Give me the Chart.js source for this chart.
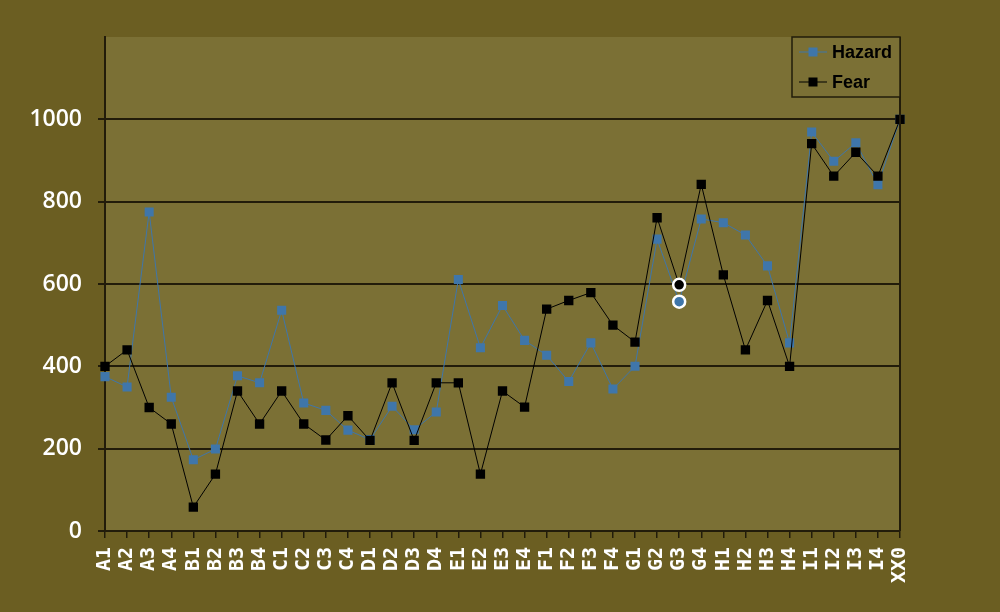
<!DOCTYPE html>
<html>
<head>
<meta charset="utf-8">
<script src="https://cdn.jsdelivr.net/npm/chart.js@4"></script>
<style>
  html, body { margin: 0; padding: 0; background: #6b5e22; }
  #wrap { width: 1000px; height: 612px; }
</style>
</head>
<body>
<div id="wrap"><canvas id="chart" width="1000" height="612"></canvas></div>
<script>
// data
const categories = ["A1", "A2", "A3", "A4", "B1", "B2", "B3", "B4", "C1", "C2", "C3", "C4",
  "D1", "D2", "D3", "D4", "E1", "E2", "E3", "E4", "F1", "F2", "F3", "F4",
  "G1", "G2", "G3", "G4", "H1", "H2", "H3", "H4", "I1", "I2", "I3", "I4", "XX0"];
const hazard = [375, 350, 775, 325, 173, 199, 377, 360, 536, 311, 293, 245,
  222, 303, 246, 289, 611, 445, 548, 463, 427, 363, 457, 345,
  400, 709, 557, 758, 749, 719, 644, 457, 969, 898, 943, 841, 1000];
const fear = [400, 440, 300, 260, 58, 138, 340, 260, 340, 260, 221, 280,
  220, 360, 220, 360, 360, 138, 340, 301, 539, 560, 579, 500,
  459, 761, 598, 842, 622, 440, 560, 400, 941, 862, 920, 862, 1000];
const yTicks = [0, 200, 400, 600, 800, 1000];
const yMax = 1200;
const highlight = "G3"; // the circled point

const OUTER = "#6b5e22";
const PLOT = "#7b7035";
const GRID = "#221c0a";
const BLUE = "#3f76aa";
const BLACK = "#000000";

const hi = categories.indexOf(highlight);
function perPoint(normal, special) {
  return categories.map((c, i) => (i === hi ? special : normal));
}

// background, right border, legend box
const decor = {
  id: "decor",
  beforeDraw(chart) {
    const { ctx, chartArea: a } = chart;
    ctx.save();
    ctx.fillStyle = OUTER;
    ctx.fillRect(0, 0, chart.width, chart.height);
    ctx.fillStyle = PLOT;
    ctx.fillRect(a.left, a.top, a.right - a.left, a.bottom - a.top);
    ctx.restore();
  },
  afterDraw(chart) {
    const { ctx, chartArea: a } = chart;
    ctx.save();
    ctx.strokeStyle = GRID;
    ctx.lineWidth = 2;
    ctx.beginPath();
    ctx.moveTo(a.right, a.top);
    ctx.lineTo(a.right, a.bottom);
    ctx.stroke();

    // legend
    const bx = a.right - 108, by = a.top, bw = 108, bh = 60;
    ctx.fillStyle = PLOT;
    ctx.fillRect(bx, by, bw, bh);
    ctx.lineWidth = 1.5;
    ctx.strokeRect(bx, by, bw, bh);
    const items = [
      { label: "Hazard", color: BLUE, size: 9 },
      { label: "Fear", color: BLACK, size: 9 }
    ];
    items.forEach((it, i) => {
      const y = by + 15 + i * 30;
      ctx.strokeStyle = it.color;
      ctx.lineWidth = 1;
      ctx.beginPath();
      ctx.moveTo(bx + 7, y);
      ctx.lineTo(bx + 35, y);
      ctx.stroke();
      ctx.fillStyle = it.color;
      ctx.fillRect(bx + 21 - it.size / 2, y - it.size / 2, it.size, it.size);
      ctx.fillStyle = "#000";
      ctx.font = "bold 18px 'Liberation Sans'";
      ctx.textBaseline = "middle";
      ctx.fillText(it.label, bx + 40, y + 1);
    });
    ctx.restore();
  }
};

new Chart(document.getElementById("chart"), {
  type: "line",
  data: {
    labels: categories,
    datasets: [
      {
        label: "Hazard",
        data: hazard,
        borderColor: BLUE,
        borderWidth: 1,
        backgroundColor: BLUE,
        pointStyle: perPoint("rect", "circle"),
        pointRadius: perPoint(6.4, 6),
        pointBorderColor: perPoint(BLUE, "#ffffff"),
        pointBorderWidth: perPoint(0, 2.5),
        pointBackgroundColor: BLUE,
        tension: 0,
        order: 1
      },
      {
        label: "Fear",
        data: fear,
        borderColor: BLACK,
        borderWidth: 1,
        backgroundColor: BLACK,
        pointStyle: perPoint("rect", "circle"),
        pointRadius: perPoint(6.6, 6),
        pointBorderColor: perPoint(BLACK, "#ffffff"),
        pointBorderWidth: perPoint(0, 2.5),
        pointBackgroundColor: BLACK,
        tension: 0,
        order: 0
      }
    ]
  },
  options: {
    responsive: false,
    animation: false,
    layout: { padding: { top: 37, right: 100, left: 0, bottom: 0 } },
    plugins: {
      legend: { display: false },
      tooltip: { enabled: false }
    },
    scales: {
      x: {
        offset: false,
        grid: { drawOnChartArea: false, drawTicks: true, tickLength: 7, color: GRID, lineWidth: 1.5 },
        border: { color: GRID, width: 2 },
        ticks: {
          autoSkip: false,
          maxRotation: 90,
          minRotation: 90,
          padding: 9,
          color: "#ffffff",
          font: { family: "'DejaVu Sans Mono'", weight: "bold", size: 20 }
        },
        afterFit(scale) { scale.height = 81; }
      },
      y: {
        min: 0,
        max: yMax,
        afterBuildTicks(scale) { scale.ticks = yTicks.map(v => ({ value: v })); },
        grid: { color: GRID, lineWidth: 2, tickLength: 7 },
        border: { color: GRID, width: 2 },
        ticks: {
          padding: 16,
          color: "#ffffff",
          font: { family: "'Open Sans'", weight: "600", size: 23 },
          callback: v => String(v)
        },
        afterFit(scale) { scale.width = 105; }
      }
    }
  },
  plugins: [decor]
});
</script>
</body>
</html>
